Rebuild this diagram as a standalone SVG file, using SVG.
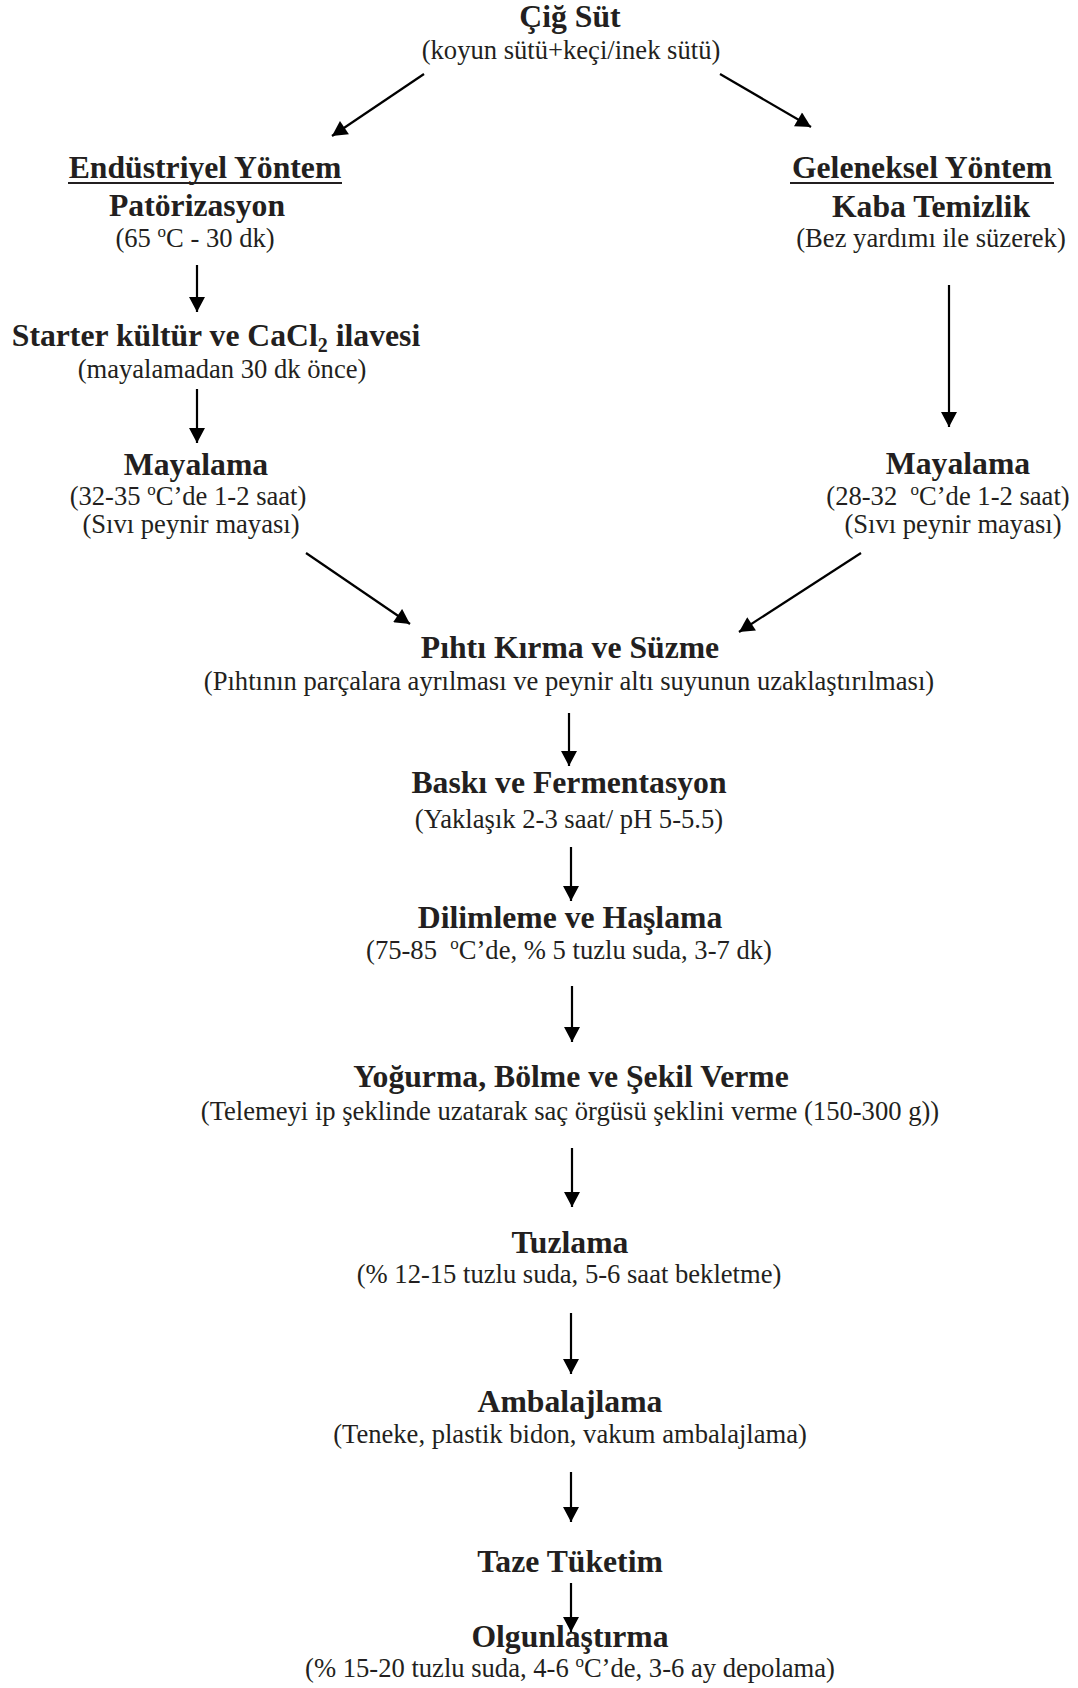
<svg xmlns="http://www.w3.org/2000/svg" width="1078" height="1688" viewBox="0 0 1078 1688">
<style>
text{font-family:"Liberation Serif","Times New Roman",serif;fill:#231f20;text-anchor:middle}
.t{font-size:31.7px;font-weight:bold}
.s{font-size:26.6px}
.sup{font-size:17px}
.c{stroke:#000;stroke-width:2.2;fill:none}
.u{stroke:#231f20;stroke-width:2.2}
</style>
<defs>
<marker id="ah" markerUnits="userSpaceOnUse" markerWidth="16" markerHeight="16" refX="15" refY="8" orient="auto" viewBox="0 0 15 16">
<path d="M0,0 L15,8 L0,16 Z" fill="#000"/>
</marker>
</defs>
<rect width="1078" height="1688" fill="#fff"/>

<g id="n-cig-sut">
<text class="t" x="570" y="27">Çiğ Süt</text>
<text class="s" x="571" y="59">(koyun sütü+keçi/inek sütü)</text>
</g>

<g id="n-endustriyel">
<text class="t" x="205" y="178">Endüstriyel Yöntem</text>
<line class="u" x1="68" y1="183" x2="342" y2="183"/>
<text class="t" x="197" y="216">Patörizasyon</text>
<text class="s" x="195" y="247">(65 <tspan class="sup" dy="-10">o</tspan><tspan dy="10">C - 30 dk)</tspan></text>
</g>

<g id="n-starter">
<text class="t" x="216" y="346">Starter kültür ve CaCl<tspan font-size="20" dy="6">2</tspan><tspan dy="-6"> ilavesi</tspan></text>
<text class="s" x="222" y="378">(mayalamadan 30 dk önce)</text>
</g>

<g id="n-mayalama-left">
<text class="t" x="196" y="475">Mayalama</text>
<text class="s" x="188" y="505">(32-35 <tspan class="sup" dy="-10">o</tspan><tspan dy="10">C’de 1-2 saat)</tspan></text>
<text class="s" x="191" y="533">(Sıvı peynir mayası)</text>
</g>

<g id="n-geleneksel">
<text class="t" x="922" y="178">Geleneksel Yöntem</text>
<line class="u" x1="790" y1="183" x2="1054" y2="183"/>
<text class="t" x="931" y="217">Kaba Temizlik</text>
<text class="s" x="931" y="247">(Bez yardımı ile süzerek)</text>
</g>

<g id="n-mayalama-right">
<text class="t" x="958" y="474">Mayalama</text>
<text class="s" x="948" y="505" xml:space="preserve">(28-32  <tspan class="sup" dy="-10">o</tspan><tspan dy="10">C’de 1-2 saat)</tspan></text>
<text class="s" x="953" y="533">(Sıvı peynir mayası)</text>
</g>

<g id="n-pihti">
<text class="t" x="570" y="658">Pıhtı Kırma ve Süzme</text>
<text class="s" x="569" y="690">(Pıhtının parçalara ayrılması ve peynir altı suyunun uzaklaştırılması)</text>
</g>

<g id="n-baski">
<text class="t" x="569" y="793">Baskı ve Fermentasyon</text>
<text class="s" x="569" y="828">(Yaklaşık 2-3 saat/ pH 5-5.5)</text>
</g>

<g id="n-dilimleme">
<text class="t" x="570" y="928">Dilimleme ve Haşlama</text>
<text class="s" x="569" y="959" xml:space="preserve">(75-85  <tspan class="sup" dy="-10">o</tspan><tspan dy="10">C’de, % 5 tuzlu suda, 3-7 dk)</tspan></text>
</g>

<g id="n-yogurma">
<text class="t" x="571" y="1087">Yoğurma, Bölme ve Şekil Verme</text>
<text class="s" x="570" y="1120">(Telemeyi ip şeklinde uzatarak saç örgüsü şeklini verme (150-300 g))</text>
</g>

<g id="n-tuzlama">
<text class="t" x="570" y="1253">Tuzlama</text>
<text class="s" x="569" y="1283">(% 12-15 tuzlu suda, 5-6 saat bekletme)</text>
</g>

<g id="n-ambalajlama">
<text class="t" x="570" y="1412">Ambalajlama</text>
<text class="s" x="570" y="1443">(Teneke, plastik bidon, vakum ambalajlama)</text>
</g>

<g id="n-taze">
<text class="t" x="570" y="1572">Taze Tüketim</text>
</g>

<g id="n-olgunlastirma">
<text class="t" x="570" y="1647">Olgunlaştırma</text>
<text class="s" x="570" y="1677">(% 15-20 tuzlu suda, 4-6 <tspan class="sup" dy="-10">o</tspan><tspan dy="10">C’de, 3-6 ay depolama)</tspan></text>
</g>

<g id="connectors">
<line class="c" marker-end="url(#ah)" x1="424" y1="74" x2="332" y2="136"/>
<line class="c" marker-end="url(#ah)" x1="720" y1="74" x2="811" y2="127"/>
<line class="c" marker-end="url(#ah)" x1="197" y1="265" x2="197" y2="312"/>
<line class="c" marker-end="url(#ah)" x1="197" y1="389" x2="197" y2="443"/>
<line class="c" marker-end="url(#ah)" x1="949" y1="285" x2="949" y2="427"/>
<line class="c" marker-end="url(#ah)" x1="306" y1="553" x2="410" y2="624"/>
<line class="c" marker-end="url(#ah)" x1="861" y1="553" x2="739" y2="632"/>
<line class="c" marker-end="url(#ah)" x1="569" y1="713" x2="569" y2="766"/>
<line class="c" marker-end="url(#ah)" x1="571" y1="847" x2="571" y2="901"/>
<line class="c" marker-end="url(#ah)" x1="572" y1="986" x2="572" y2="1042"/>
<line class="c" marker-end="url(#ah)" x1="572" y1="1148" x2="572" y2="1207"/>
<line class="c" marker-end="url(#ah)" x1="571" y1="1313" x2="571" y2="1374"/>
<line class="c" marker-end="url(#ah)" x1="571" y1="1472" x2="571" y2="1522"/>
<line class="c" marker-end="url(#ah)" x1="571" y1="1583" x2="571" y2="1632"/>
</g>
</svg>
